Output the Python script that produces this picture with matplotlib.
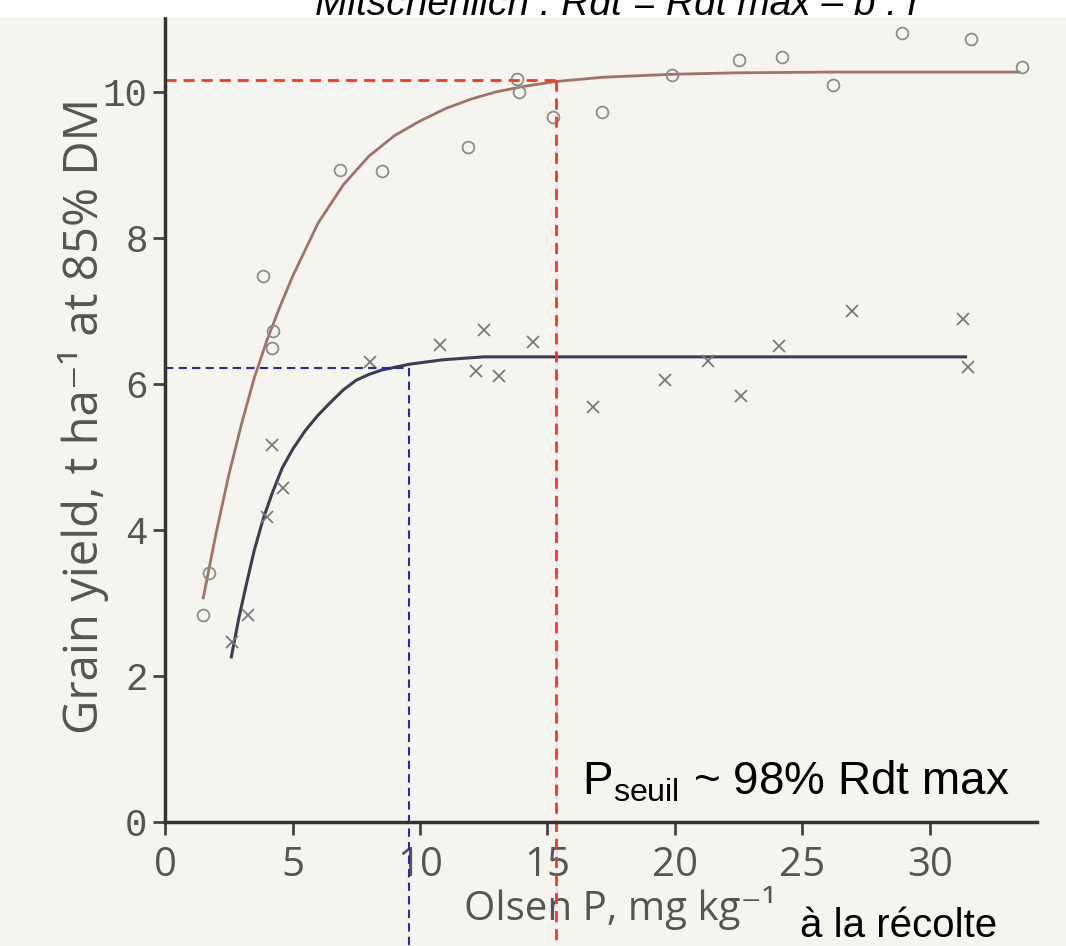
import matplotlib.pyplot as plt
import matplotlib as mpl

# points
circ_x = [1.5, 1.73, 3.83, 4.22, 4.2, 6.86, 8.52, 11.87, 13.79, 13.9, 15.23, 17.14, 19.9, 22.5, 24.18, 26.2, 28.9, 31.6, 33.6]
circ_y = [2.84, 3.41, 7.48, 6.72, 6.49, 8.93, 8.92, 9.24, 10.17, 10.0, 9.65, 9.73, 10.23, 10.43, 10.47, 10.1, 10.8, 10.73, 10.34]

cross_x = [2.63, 3.25, 4.0, 4.63, 4.2, 8.04, 10.78, 12.5, 12.2, 13.1, 14.42, 16.8, 19.6, 21.3, 22.6, 24.1, 26.95, 31.3, 31.5]
cross_y = [2.47, 2.84, 4.18, 4.58, 5.16, 6.30, 6.53, 6.74, 6.18, 6.11, 6.57, 5.68, 6.05, 6.32, 5.84, 6.52, 7.0, 6.89, 6.23]

# fitted curves
red_x = [1.5, 2.0, 2.5, 3.0, 3.5, 4.0, 4.5, 5.0, 6.0, 7.0, 8.0, 9.0, 10.0, 11.0, 12.0, 13.0, 14.0, 15.3, 17.2, 19.9, 22.4, 26.0, 30.0, 33.5]
red_y = [3.07, 3.95, 4.75, 5.45, 6.08, 6.6, 7.05, 7.47, 8.2, 8.73, 9.12, 9.4, 9.6, 9.77, 9.9, 10.0, 10.07, 10.14, 10.2, 10.24, 10.26, 10.27, 10.27, 10.27]
blue_x = [2.6, 2.9, 3.2, 3.5, 3.85, 4.2, 4.6, 5.0, 5.5, 6.0, 6.5, 7.0, 7.5, 8.0, 8.5, 9.6, 10.9, 12.5, 17.0, 24.0, 31.4]
blue_y = [2.26, 2.8, 3.27, 3.72, 4.15, 4.5, 4.85, 5.1, 5.36, 5.57, 5.75, 5.92, 6.05, 6.13, 6.19, 6.27, 6.33, 6.37, 6.37, 6.37, 6.37]

# thresholds
red_seuil = (15.33, 10.16)
blue_seuil = (9.57, 6.22)

xticks = [0, 5, 10, 15, 20, 25, 30]
yticks = [0, 2, 4, 6, 8, 10]

narrow = ['Liberation Sans Narrow', 'Open Sans', 'DejaVu Sans']
mpl.rcParams['mathtext.fontset'] = 'custom'
mpl.rcParams['mathtext.rm'] = 'Liberation Sans'

bg = '#f5f5f0'
fig = plt.figure(figsize=(10.66, 9.46), dpi=100, facecolor=bg)
# white strip of the slide above the scan
fig.patches.append(mpl.patches.Rectangle((0, 1 - 16 / 946), 1, 16 / 946, transform=fig.transFigure,
                                         color='white', zorder=0))
ax = fig.add_axes([0.1548, 0.1311, 0.818, 0.8583])
ax.set_facecolor('none')

ax.plot(red_x, red_y, color='#a47068', lw=2)
ax.plot(blue_x, blue_y, color='#3a3e55', lw=2.2)
ax.plot(circ_x, circ_y, 'o', mfc='none', mec='#8c8c8c', ms=8.5, mew=1.3)
ax.plot(cross_x, cross_y, 'x', color='#7a7a7a', ms=8, mew=1.3)

# dashed guide lines, running down past the axis
ax.plot([0, red_seuil[0]], [red_seuil[1], red_seuil[1]], color='#ff3515', lw=2, dashes=(4, 2.5))
ax.plot([red_seuil[0], red_seuil[0]], [red_seuil[1], -1.75], color='#ff3515', lw=2, dashes=(4, 2.5), clip_on=False)
ax.plot([0, blue_seuil[0]], [blue_seuil[1], blue_seuil[1]], color='#2828b0', lw=1.5, dashes=(4, 2.5))
ax.plot([blue_seuil[0], blue_seuil[0]], [blue_seuil[1], -1.75], color='#2828b0', lw=1.5, dashes=(4, 2.5), clip_on=False)

ax.set_xlim(0, 34.2)
ax.set_ylim(0, 11.12)
ax.spines['top'].set_visible(False)
ax.spines['right'].set_visible(False)
for s in ['left', 'bottom']:
    ax.spines[s].set_color('#333333')
    ax.spines[s].set_linewidth(2.5)

ax.set_xticks(xticks)
ax.set_yticks(yticks)
ax.tick_params(axis='both', direction='out', length=9, width=2, color='#444444', labelcolor='#555555')
ax.set_xticklabels([str(v) for v in xticks], family=narrow, fontsize=29)
ax.set_yticklabels([str(v) for v in yticks], family='Liberation Mono', fontsize=27)
ax.tick_params(axis='x', pad=8)

ax.set_ylabel('Grain yield, t ha\u207b\u00b9 at 85% DM', family=narrow, fontsize=34, color='#555555')
ax.yaxis.set_label_coords(-56 / 872, 0.5)
ax.set_xlabel('Olsen P, mg kg\u207b\u00b9', family=narrow, fontsize=29, color='#555555')
ax.xaxis.set_label_coords((620 - 165) / 872, -64 / 812)

# the slide title is cut by the top edge of the scan, as in the source
fig.text(0.58, 1 - 15 / 946, 'Mitschenlich : Rdt = Rdt max \u2013 b . r', family='Liberation Sans',
         style='italic', fontsize=28, ha='center', va='baseline')
fig.text(582 / 1066, 1 - 795 / 946, r'P$_{\mathregular{seuil}}$ ~ 98% Rdt max', family='Liberation Sans',
         fontsize=33, ha='left', va='baseline')
fig.text(800 / 1066, 1 - 937 / 946, 'à la récolte', family='Liberation Sans', fontsize=29,
         ha='left', va='baseline')

plt.savefig('out.png', dpi=100, facecolor=fig.get_facecolor())
